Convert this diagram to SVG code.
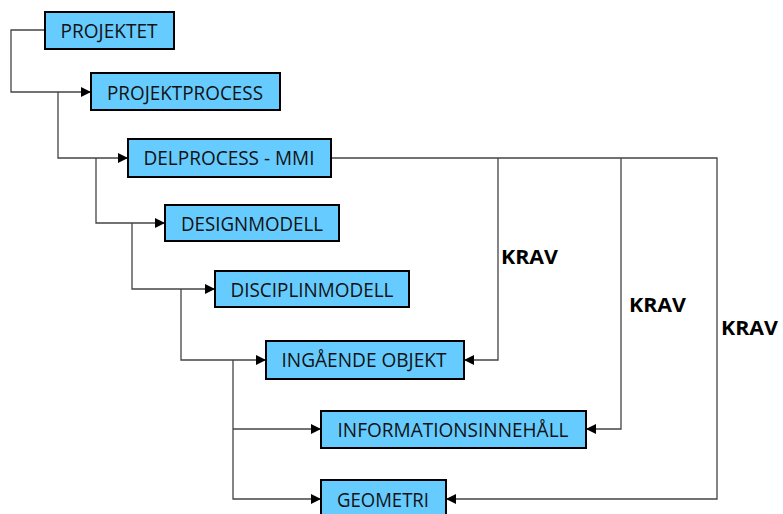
<svg xmlns="http://www.w3.org/2000/svg" width="783" height="514" viewBox="0 0 783 514">
  <defs>
    <marker id="arrow" viewBox="0 0 10 10" refX="10" refY="5" markerWidth="10" markerHeight="10" markerUnits="userSpaceOnUse" orient="auto">
      <path d="M0,0 L10,5 L0,10 Z" fill="#000"/>
    </marker>
    <style>
      .box { fill: #66CCFF; stroke: #000; stroke-width: 2; }
      .lbl { font-family: "Open Sans", "Noto Sans", sans-serif; font-size: 20.5px; fill: #111; text-anchor: middle; }
      .krav { font-family: "Open Sans", "Noto Sans", sans-serif; font-size: 20px; font-weight: bold; fill: #000; }
      .wire { fill: none; stroke: #444; stroke-width: 1.3; }
      .arr { marker-end: url(#arrow); }
    </style>
  </defs>

  <g id="connectors">
    <path class="wire arr" d="M45,30 H11 V92 H91"/>
    <path class="wire arr" d="M58,92 V158 H128"/>
    <path class="wire arr" d="M96,158 V223 H165"/>
    <path class="wire arr" d="M132,223 V289 H215"/>
    <path class="wire arr" d="M181,289 V360 H266"/>
    <path class="wire arr" d="M233,360 V499 H321"/>
    <path class="wire arr" d="M233,429 H321"/>
    <path class="wire arr" d="M331,158 H717 V499 H446"/>
    <path class="wire arr" d="M498,158 V360 H464"/>
    <path class="wire arr" d="M621,158 V429 H586"/>
    <text class="krav" x="501" y="264" textLength="57" lengthAdjust="spacingAndGlyphs">KRAV</text>
    <text class="krav" x="629" y="312" textLength="57" lengthAdjust="spacingAndGlyphs">KRAV</text>
    <text class="krav" x="721" y="335" textLength="57" lengthAdjust="spacingAndGlyphs">KRAV</text>
  </g>

  <g id="projektet">
    <rect class="box" x="45" y="12" width="129" height="37"/>
    <text class="lbl" x="109" y="37.5" textLength="97" lengthAdjust="spacingAndGlyphs">PROJEKTET</text>
  </g>
  <g id="projektprocess">
    <rect class="box" x="91" y="73" width="189" height="37"/>
    <text class="lbl" x="185" y="99.5" textLength="156" lengthAdjust="spacingAndGlyphs">PROJEKTPROCESS</text>
  </g>
  <g id="delprocess-mmi">
    <rect class="box" x="128" y="139" width="203" height="38"/>
    <text class="lbl" x="229" y="165" textLength="171" lengthAdjust="spacingAndGlyphs">DELPROCESS - MMI</text>
  </g>
  <g id="designmodell">
    <rect class="box" x="165" y="205" width="174" height="36"/>
    <text class="lbl" x="252" y="230.5" textLength="142" lengthAdjust="spacingAndGlyphs">DESIGNMODELL</text>
  </g>
  <g id="disciplinmodell">
    <rect class="box" x="215" y="271" width="194" height="36"/>
    <text class="lbl" x="312" y="296.5" textLength="163" lengthAdjust="spacingAndGlyphs">DISCIPLINMODELL</text>
  </g>
  <g id="ingaende-objekt">
    <rect class="box" x="266" y="341" width="198" height="38"/>
    <text class="lbl" x="364" y="367" textLength="165" lengthAdjust="spacingAndGlyphs">INGÅENDE OBJEKT</text>
  </g>
  <g id="informationsinnehall">
    <rect class="box" x="321" y="411" width="265" height="37"/>
    <text class="lbl" x="453" y="437" textLength="231" lengthAdjust="spacingAndGlyphs">INFORMATIONSINNEHÅLL</text>
  </g>
  <g id="geometri">
    <rect class="box" x="321" y="480" width="125" height="38"/>
    <text class="lbl" x="383" y="506.5" textLength="92" lengthAdjust="spacingAndGlyphs">GEOMETRI</text>
  </g>
</svg>
